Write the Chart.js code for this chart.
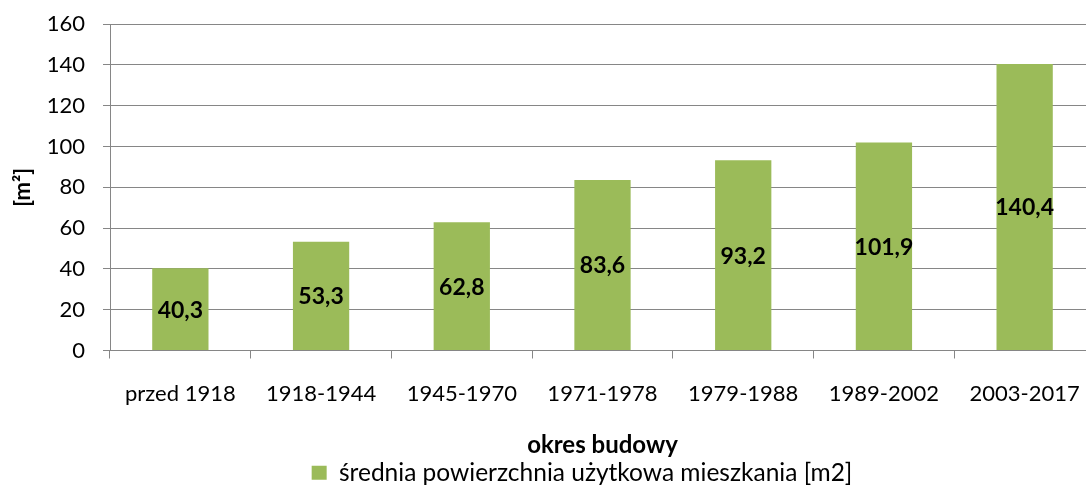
<!DOCTYPE html>
<html>
<head>
<meta charset="utf-8">
<script src="https://cdn.jsdelivr.net/npm/chart.js@4.4.1/dist/chart.umd.min.js"></script>
<style>
html, body { margin: 0; padding: 0; overflow: hidden; background: #fff; }
canvas { display: block; }
</style>
</head>
<body>
<canvas id="c" width="1100" height="486"></canvas>
<script>
const categories = ['przed 1918', '1918-1944', '1945-1970', '1971-1978', '1979-1988', '1989-2002', '2003-2017'];
const values = [40.3, 53.3, 62.8, 83.6, 93.2, 101.9, 140.4];
const seriesLabel = 'średnia powierzchnia użytkowa mieszkania [m2]';
const xTitle = 'okres budowy';
const yTitle = '[m²]';
const yMin = 0, yMax = 160, yStep = 20;

const gridColor = '#868686';
const barColor = '#9BBB59';
const fontFam = 'Lato, "Open Sans", sans-serif';
const legendCenterX = 582;

const helper = {
  id: 'helper',
  afterLayout(chart) {
    const lg = chart.legend;
    if (lg) {
      const w = lg.right - lg.left;
      lg.left = legendCenterX - w / 2;
      lg.right = legendCenterX + w / 2;
    }
  },
  afterDatasetsDraw(chart) {
    const ctx = chart.ctx;
    const meta = chart.getDatasetMeta(0);
    ctx.save();
    ctx.font = 'bold 23px ' + fontFam;
    ctx.fillStyle = '#000';
    ctx.textAlign = 'center';
    ctx.textBaseline = 'middle';
    meta.data.forEach((bar, i) => {
      const v = chart.data.datasets[0].data[i];
      const txt = v.toFixed(1).replace('.', ',');
      ctx.fillText(txt, bar.x, (bar.y + bar.base) / 2 + 1);
    });
    ctx.restore();
  }
};

new Chart(document.getElementById('c'), {
  type: 'bar',
  data: {
    labels: categories,
    datasets: [{
      label: seriesLabel,
      data: values,
      backgroundColor: barColor,
      borderWidth: 0,
      categoryPercentage: 1.0,
      barPercentage: 0.4
    }]
  },
  options: {
    responsive: false,
    animation: false,
    layout: { padding: { left: 0, right: 5, top: 24, bottom: -9 } },
    plugins: {
      tooltip: { enabled: false },
      legend: {
        display: true,
        position: 'bottom',
        labels: {
          boxWidth: 15,
          boxHeight: 14,
          padding: 4,
          color: '#000',
          font: { family: fontFam, size: 24.5 }
        }
      }
    },
    scales: {
      x: {
        offset: true,
        afterFit(scale) { scale.height = 106; scale.paddingLeft = 0; scale.paddingRight = 0; },
        grid: { display: true, drawOnChartArea: false, drawTicks: true, tickLength: 8, color: gridColor, offset: true },
        border: { display: true, color: gridColor, width: 1 },
        ticks: { color: '#000', padding: 22, font: { family: fontFam, size: 22 }, maxRotation: 0, autoSkip: false },
        title: {
          display: true,
          text: xTitle,
          color: '#000',
          font: { family: fontFam, size: 24, weight: 'bold' },
          padding: { top: 26, bottom: -3 }
        }
      },
      y: {
        min: yMin,
        max: yMax,
        afterFit(scale) { scale.width = 110; scale.paddingTop = 0; scale.paddingBottom = 0; },
        grid: { display: true, drawTicks: true, tickLength: 7, color: gridColor, lineWidth: 1 },
        border: { display: true, color: gridColor, width: 1 },
        ticks: { stepSize: yStep, color: '#000', padding: 18, font: { family: fontFam, size: 22 } },
        title: {
          display: true,
          text: yTitle,
          color: '#000',
          font: { family: fontFam, size: 22, weight: 'bold' },
          padding: { top: 10, bottom: 0 }
        }
      }
    }
  },
  plugins: [helper]
});
</script>
</body>
</html>
